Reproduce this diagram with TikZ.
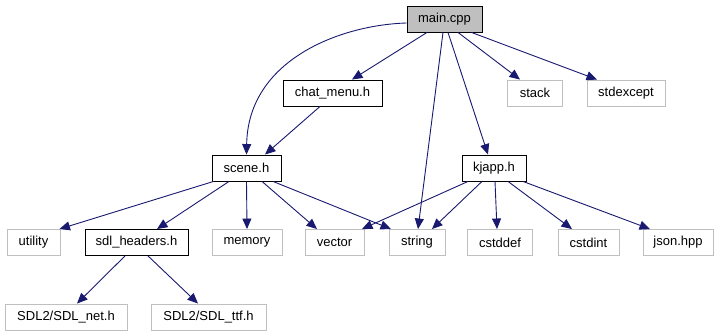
\documentclass[tikz,border=0pt]{standalone}
\usepackage{fontspec}
\setmainfont{Liberation Sans}
\usetikzlibrary{arrows.meta}
\definecolor{edgeblue}{HTML}{191970}
\definecolor{lightframe}{HTML}{BFBFBF}
\begin{document}
\begin{tikzpicture}[x=1pt,y=-1pt,
  box/.style={draw=black, rectangle, minimum height=26pt, inner sep=0pt,
    font=\fontsize{13}{15}\selectfont, line width=0.9pt},
  ext/.style={box, draw=lightframe},
  root/.style={box, fill=lightframe},
  dep/.style={draw=edgeblue, line width=0.9pt,
    -{Triangle[length=10.5pt,width=9pt]}}]

\useasboundingbox (0,0) rectangle (720,336);

% include graph nodes
\node[root, minimum width=75pt]  (main)    at (444.5,19)  {main.cpp};
\node[box,  minimum width=99pt]  (chat)    at (332.5,93)  {chat\_menu.h};
\node[ext,  minimum width=55pt]  (stack)   at (535,93)    {stack};
\node[ext,  minimum width=78pt]  (stdexc)  at (626,93)    {stdexcept};
\node[box,  minimum width=69pt]  (scene)   at (246.5,168) {scene.h};
\node[box,  minimum width=64pt]  (kjapp)   at (494,168)   {kjapp.h};
\node[ext,  minimum width=53pt]  (utility) at (33.5,242.5) {utility};
\node[box,  minimum width=103pt] (sdl)     at (136.5,242.5) {sdl\_headers.h};
\node[ext,  minimum width=70pt]  (memory)  at (247,242.5) {memory};
\node[ext,  minimum width=59pt]  (vector)  at (334.5,242.5) {vector};
\node[ext,  minimum width=56pt]  (string)  at (417,242.5) {string};
\node[ext,  minimum width=65pt]  (cstddef) at (500,242.5) {cstddef};
\node[ext,  minimum width=61pt]  (cstdint) at (588.5,242.5) {cstdint};
\node[ext,  minimum width=70pt]  (json)    at (678,242.5) {json.hpp};
\node[ext,  minimum width=122pt] (sdlnet)  at (66,317)    {SDL2/SDL\_net.h};
\node[ext,  minimum width=115pt] (sdlttf)  at (208.5,317) {SDL2/SDL\_ttf.h};

% main.cpp includes
\draw[dep] ([xshift=-17.5pt]main.south) -- ([xshift=19.5pt]chat.north);
\draw[dep] ([yshift=-4pt]main.west) .. controls (340,25) and (248,60) .. (scene.north);
\draw[dep] ([xshift=-1.5pt]main.south) -- ([xshift=1pt]string.north);
\draw[dep] ([xshift=3.5pt]main.south) -- ([xshift=-6pt]kjapp.north);
\draw[dep] ([xshift=13.5pt]main.south) -- ([xshift=-15pt]stack.north);
\draw[dep] ([xshift=27pt]main.south) -- ([xshift=-29pt]stdexc.north);

% chat_menu.h includes
\draw[dep] ([xshift=-12.5pt]chat.south) -- ([xshift=18.5pt]scene.north);

% scene.h includes
\draw[dep] ([xshift=-33pt]scene.south) -- ([xshift=-1pt]utility.north east);
\draw[dep] ([xshift=-17.5pt]scene.south) -- ([xshift=20.5pt]sdl.north);
\draw[dep] (scene.south) -- (memory.north);
\draw[dep] ([xshift=15.5pt]scene.south) -- ([xshift=-17.5pt]vector.north);
\draw[dep] ([xshift=26.5pt]scene.south) -- ([xshift=-26pt]string.north);

% kjapp.h includes
\draw[dep] ([xshift=-26pt]kjapp.south) -- ([xshift=27.5pt]vector.north);
\draw[dep] ([xshift=-12pt]kjapp.south) -- ([xshift=15pt]string.north);
\draw[dep] ([xshift=1pt]kjapp.south) -- ([xshift=-3pt]cstddef.north);
\draw[dep] ([xshift=14pt]kjapp.south) -- ([xshift=-16.5pt]cstdint.north);
\draw[dep] ([xshift=29pt]kjapp.south) -- ([xshift=-28pt]json.north);

% sdl_headers.h includes
\draw[dep] ([xshift=-11.5pt]sdl.south) -- ([xshift=11pt]sdlnet.north);
\draw[dep] ([xshift=11.5pt]sdl.south) -- ([xshift=-10.5pt]sdlttf.north);
\end{tikzpicture}
\end{document}
